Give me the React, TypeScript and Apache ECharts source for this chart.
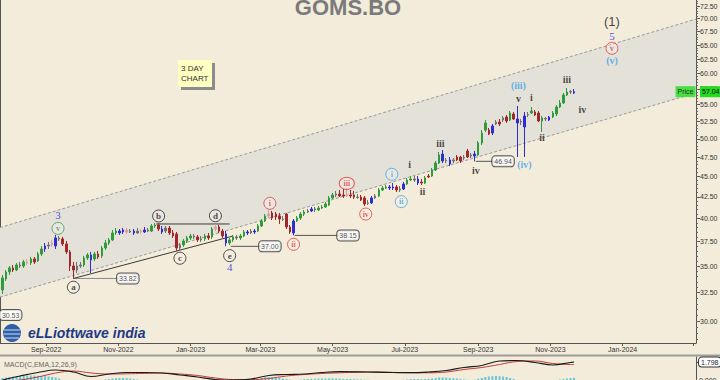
import React, { useEffect, useRef } from "react";
import * as echarts from "echarts";

// ---------- DATA ----------
const candleDates = [
"2022-07-26","2022-07-29","2022-08-01","2022-08-04","2022-08-07","2022-08-10","2022-08-13","2022-08-16","2022-08-19","2022-08-22",
"2022-08-25","2022-08-28","2022-08-31","2022-09-03","2022-09-06","2022-09-09","2022-09-12","2022-09-15","2022-09-18","2022-09-21",
"2022-09-24","2022-09-27","2022-09-30","2022-10-03","2022-10-06","2022-10-09","2022-10-12","2022-10-15","2022-10-18","2022-10-21",
"2022-10-24","2022-10-27","2022-10-30","2022-11-02","2022-11-05","2022-11-08","2022-11-11","2022-11-14","2022-11-17","2022-11-20",
"2022-11-23","2022-11-26","2022-11-29","2022-12-02","2022-12-05","2022-12-08","2022-12-11","2022-12-14","2022-12-17","2022-12-20",
"2022-12-23","2022-12-26","2022-12-29","2023-01-01","2023-01-04","2023-01-07","2023-01-10","2023-01-13","2023-01-16","2023-01-19",
"2023-01-22","2023-01-25","2023-01-28","2023-01-31","2023-02-03","2023-02-06","2023-02-09","2023-02-12","2023-02-15","2023-02-18",
"2023-02-21","2023-02-24","2023-02-27","2023-03-02","2023-03-05","2023-03-08","2023-03-11","2023-03-14","2023-03-17","2023-03-20",
"2023-03-23","2023-03-26","2023-03-29","2023-04-01","2023-04-04","2023-04-07","2023-04-10","2023-04-13","2023-04-16","2023-04-19",
"2023-04-22","2023-04-25","2023-04-28","2023-05-01","2023-05-04","2023-05-07","2023-05-10","2023-05-13","2023-05-16","2023-05-19",
"2023-05-22","2023-05-25","2023-05-28","2023-05-31","2023-06-03","2023-06-06","2023-06-09","2023-06-12","2023-06-15","2023-06-18",
"2023-06-21","2023-06-24","2023-06-27","2023-06-30","2023-07-03","2023-07-06","2023-07-09","2023-07-12","2023-07-15","2023-07-18",
"2023-07-21","2023-07-24","2023-07-27","2023-07-30","2023-08-02","2023-08-05","2023-08-08","2023-08-11","2023-08-14","2023-08-17",
"2023-08-20","2023-08-23","2023-08-26","2023-08-29","2023-09-01","2023-09-04","2023-09-07","2023-09-10","2023-09-13","2023-09-16",
"2023-09-19","2023-09-22","2023-09-25","2023-09-28","2023-10-01","2023-10-04","2023-10-07","2023-10-10","2023-10-13","2023-10-16",
"2023-10-19","2023-10-22","2023-10-25","2023-10-28","2023-10-31","2023-11-03","2023-11-06","2023-11-09","2023-11-12","2023-11-15",
"2023-11-18","2023-11-21"];

const opens = [
32.75,33.77,34.44,34.83,34.63,35.12,35.02,35.42,35.32,35.72,
35.52,36.22,36.73,37.04,37.14,37.04,37.88,37.78,37.25,36.43,
35.02,34.63,35.02,35.12,35.82,36.12,35.72,36.22,36.02,36.83,
37.35,37.67,38.41,38.62,38.52,38.73,38.52,38.62,38.41,38.62,
38.52,38.73,38.62,39.17,39.28,38.84,38.62,38.95,38.41,38.31,
36.83,37.14,37.56,37.88,38.09,37.99,37.67,37.78,38.09,37.99,
38.84,39.06,38.62,38.31,37.35,37.67,37.99,37.88,38.09,38.52,
38.41,38.62,38.62,39.17,39.72,40.28,40.62,40.50,40.28,39.94,
40.50,39.06,38.41,39.72,40.05,40.50,40.73,40.85,41.08,40.96,
41.19,41.31,41.54,42.37,42.72,42.84,42.72,42.72,42.72,42.72,
42.48,42.48,42.37,41.78,41.78,42.37,42.60,43.32,43.56,43.69,
43.56,43.69,43.32,43.44,44.05,44.55,44.68,44.68,44.30,44.18,
45.05,45.05,45.82,46.72,47.91,46.99,47.12,46.99,47.51,47.51,
47.38,48.32,47.78,47.91,47.78,49.42,51.24,51.24,50.81,52.11,
52.40,52.70,53.14,52.70,53.59,52.85,52.40,51.67,53.44,53.74,
53.89,53.74,52.55,52.85,53.14,53.14,53.59,54.65,55.27,56.52,
56.99,56.84];

const closes = [
33.87,34.44,34.83,34.63,35.12,35.02,35.42,35.32,35.72,35.42,
36.22,36.73,37.04,37.14,37.35,37.88,37.78,37.25,36.43,35.02,
34.63,35.02,35.12,35.82,36.12,35.62,36.22,35.92,36.83,37.35,
37.67,38.41,38.62,38.41,38.73,38.52,38.62,38.41,38.62,38.52,
38.73,38.62,39.17,39.28,38.84,38.52,38.95,38.41,38.09,36.83,
37.14,37.56,37.88,38.09,37.99,37.67,37.78,38.09,37.88,38.84,
39.06,38.62,38.09,37.35,37.67,37.99,37.88,38.09,38.52,38.41,
38.62,38.52,39.17,39.72,40.28,40.50,40.05,40.17,39.94,39.90,
39.06,38.52,39.72,40.05,40.50,40.73,40.85,41.08,40.96,41.19,
41.31,41.66,42.37,42.72,42.84,42.60,42.60,42.60,42.60,42.48,
42.43,42.13,41.66,41.72,42.37,42.60,43.32,43.56,43.69,43.56,
43.69,43.32,43.44,44.05,44.55,44.68,44.55,44.18,44.18,44.80,
44.93,45.82,46.72,47.78,46.99,47.05,46.59,47.12,47.12,46.99,
47.45,47.51,47.65,47.65,49.42,50.81,52.26,50.67,51.82,52.40,
52.11,53.00,52.55,53.74,52.85,52.26,52.48,53.29,53.51,54.04,
53.44,52.55,53.00,52.92,52.70,53.74,54.65,55.27,56.52,56.99,
57.07,57.04];

const highs = [
34.15,34.63,35.02,35.12,35.32,35.42,35.62,35.72,35.92,35.92,
36.43,37.04,37.35,37.46,37.67,38.20,38.09,37.99,37.56,36.63,
35.42,35.42,35.42,36.02,36.32,36.43,36.43,36.53,37.04,37.67,
37.88,38.73,38.95,38.84,38.95,38.95,38.84,38.84,38.95,38.84,
39.06,38.95,39.39,39.50,39.50,39.17,39.17,39.17,38.73,38.52,
37.35,37.78,38.09,38.31,38.31,38.20,38.09,38.31,38.41,39.06,
39.39,39.28,38.84,38.62,37.88,38.20,38.20,38.31,38.73,38.73,
38.84,38.84,39.39,39.94,40.50,40.96,40.85,40.73,40.62,40.28,
40.62,39.28,39.94,40.28,40.73,40.96,41.08,41.31,41.31,41.42,
41.54,41.89,42.60,42.96,43.20,43.32,43.44,43.56,43.32,43.20,
42.84,42.72,42.60,42.13,42.60,42.84,43.56,43.81,43.93,43.93,
44.18,43.93,43.81,44.30,44.80,45.05,45.05,45.05,44.68,45.05,
45.31,46.08,46.99,48.18,48.45,47.38,47.51,47.38,47.78,47.65,
47.78,48.59,48.05,48.32,49.69,51.24,52.70,51.53,52.11,52.70,
52.85,53.29,53.44,54.04,53.89,54.81,52.85,53.89,53.89,54.65,
54.19,54.04,53.29,53.14,53.29,54.04,54.96,55.73,56.84,57.63,
57.31,57.47];

const lows = [
32.38,33.59,34.15,34.44,34.53,34.83,34.83,35.12,35.12,35.22,
35.42,36.02,36.43,36.73,36.94,36.73,37.56,37.04,36.22,34.53,
33.82,34.34,34.83,34.92,35.62,34.34,35.52,35.72,35.82,36.63,
37.14,37.56,38.20,38.20,38.31,38.31,38.41,38.20,38.31,38.31,
38.41,38.52,38.52,38.95,38.62,38.31,38.41,38.20,37.88,36.53,
36.63,36.94,37.35,37.67,37.78,37.46,37.46,37.56,37.67,37.78,
38.62,38.41,37.88,37.00,37.14,37.46,37.67,37.67,37.99,38.20,
38.31,38.31,38.52,39.06,39.61,40.05,39.83,39.83,39.39,39.72,
38.84,38.31,38.15,39.61,39.83,40.28,40.62,40.73,40.73,40.85,
41.08,41.19,41.42,42.25,42.48,42.48,42.37,42.48,42.37,42.25,
42.25,42.01,41.42,41.54,41.66,42.25,42.48,43.20,43.44,43.32,
43.32,43.08,43.08,43.32,43.93,44.43,44.30,43.93,43.93,44.05,
44.80,44.93,45.69,46.59,46.72,46.72,46.33,46.72,46.99,46.72,
47.12,47.38,47.38,46.94,47.65,49.14,50.96,50.53,50.53,51.96,
51.82,52.40,52.26,52.55,52.70,47.51,51.96,47.51,53.14,53.59,
53.29,52.40,50.96,52.55,52.55,53.00,53.29,54.50,55.11,56.36,
56.68,56.68];

// candle colour class: g green, r red, b blue, p pink, k grey
const candleKind = (
  "gggrgkgpgr" + "ggbkpbkrrr" + "rkkggbgrgg" + "gggbbpkbkp" + "bkggrbkrrr" +
  "kgggkrkgrg" + "prrbggkggb" + "kbgggprrrk" + "rrbgggkbkg" + "ggggkrrprr" +
  "krrkbkgggb" + "brkbggkbrg" + "rgggbkbkrr" + "krkbgggrbk" + "rkrgrbkbkg" +
  "rrgkbggggg" + "kb").split("");

const lastPrice = 57.04;

// MACD panel
const macdDates = ["2022-07-26","2022-08-10","2022-08-25","2022-09-09","2022-09-24","2022-10-09","2022-10-24","2022-11-08","2022-11-23","2022-12-08","2022-12-23","2023-01-07","2023-01-22","2023-02-06","2023-02-21","2023-03-08","2023-03-23","2023-04-07","2023-04-22","2023-05-07","2023-05-22","2023-06-06","2023-06-21","2023-07-06","2023-07-21","2023-08-05","2023-08-20","2023-09-04","2023-09-19","2023-10-04","2023-10-19","2023-11-03","2023-11-18","2023-11-21"];
const macdLine = [0.0,0.4,0.75,1.0,0.8,0.35,0.6,0.75,0.75,0.7,0.5,0.3,0.05,0.0,0.1,0.45,0.55,0.6,0.75,0.83,0.82,0.78,0.75,0.73,0.8,0.95,1.25,1.45,1.9,1.95,1.75,1.5,1.75,1.798];
const signalLine = [-0.2,0.0,0.3,0.7,0.9,0.7,0.6,0.62,0.66,0.7,0.6,0.45,0.2,0.05,0.05,0.15,0.4,0.55,0.65,0.72,0.78,0.8,0.76,0.73,0.72,0.8,1.05,1.25,1.55,1.85,1.9,1.65,1.55,1.54];
const histogram = [
0.2,0.25,0.3,0.35,0.4,0.4,0.42,0.45,0.45,0.45,
0.42,0.4,0.38,0.35,0.3,0.25,0.15,-0.05,-0.15,-0.25,
-0.3,-0.35,-0.35,-0.3,-0.3,-0.25,-0.2,-0.1,-0.05,0.05,
0.1,0.15,0.18,0.2,0.2,0.18,0.15,0.1,0.05,-0.05,
-0.05,-0.02,-0.05,-0.1,-0.12,-0.15,-0.18,-0.2,-0.22,-0.25,
-0.25,-0.25,-0.22,-0.2,-0.18,-0.15,-0.15,-0.12,-0.12,-0.1,
-0.1,-0.12,-0.12,-0.1,-0.08,-0.05,-0.05,-0.03,-0.02,-0.01,
0.0,0.02,0.1,0.2,0.28,0.3,0.3,0.25,0.2,0.15,
0.1,0.02,-0.02,0.0,0.03,0.08,0.1,0.12,0.12,0.14,
0.15,0.15,0.16,0.16,0.15,0.14,0.12,0.1,0.1,0.08,
0.06,0.05,0.03,0.02,-0.02,-0.05,-0.05,-0.04,-0.03,-0.02,
-0.02,-0.01,0.0,0.02,0.05,0.08,0.1,0.1,0.08,0.1,
0.12,0.15,0.2,0.25,0.25,0.22,0.2,0.18,0.15,0.1,
0.05,0.02,0.0,0.02,0.12,0.2,0.3,0.35,0.38,0.4,
0.38,0.35,0.3,0.2,0.1,0.0,-0.05,-0.1,-0.15,-0.2,
-0.22,-0.25,-0.25,-0.2,-0.15,-0.1,-0.05,0.05,0.1,0.15,
0.2,0.22];

// axes
const xRange = ["2022-07-24", "2024-03-03"];
const priceRange = [28.23, 73.73];
const macdRange = [-0.2, 2.3];
const yTickValues = [30, 32.5, 35, 37.5, 40, 42.5, 45, 47.5, 50, 52.5, 55, 57.5, 60, 62.5, 65, 67.5, 70, 72.5];
const xTickDates = ["2022-09-01","2022-11-01","2023-01-01","2023-03-01","2023-05-01","2023-07-01","2023-09-01","2023-11-01","2024-01-01","2024-03-01"];
const xLabelDates = ["2022-09-01","2022-11-01","2023-01-01","2023-03-01","2023-05-01","2023-07-01","2023-09-01","2023-11-01","2024-01-01"];

// channel
const channelDates = ["2022-07-24", "2024-03-03"];
const upperChannel = [39.0, 69.9];
const lowerChannel = [32.1, 56.85];

// wave labels
const annText = ["3","v","a","b","c","d","e","4","i","ii","iii","iv","i","ii","i","ii","iii","iv","(iii)","v","i","ii","(iv)","iii","iv","(1)","5","v","(v)"];
const annDates = ["2022-09-11","2022-09-11","2022-09-24","2022-12-05","2022-12-23","2023-01-22","2023-02-03","2023-02-03","2023-03-09","2023-03-29","2023-05-13","2023-05-29","2023-06-20","2023-06-28","2023-07-05","2023-07-16","2023-07-31","2023-08-30","2023-10-05","2023-10-05","2023-10-16","2023-10-25","2023-10-10","2023-11-15","2023-11-28","2023-12-23","2023-12-23","2023-12-23","2023-12-23"];
const annPrices = [40.39,38.91,33.00,40.28,35.79,40.31,36.05,34.95,41.74,37.21,44.13,40.50,45.27,41.93,46.59,43.12,49.28,45.73,57.96,55.89,56.05,50.11,46.59,58.94,54.34,69.40,66.70,64.41,62.16];
const annKind = ["num","cg","ck","ck","ck","ck","ck","num","cr","cr","cr","cr","cl","cl","rk","rk","rk","rk","pl","rk","rk","rk","pl","rk","rk","big","num","cr","pl"];

// price level boxes and their leader lines
const boxValues = [33.82, 37.00, 38.15, 46.94, 30.53];
const boxDates = ["2022-11-09","2023-03-09","2023-05-14","2023-09-22","2022-08-02"];
const levelFrom = ["2022-09-24","2023-02-04","2023-03-30","2023-08-30"];

// triangle lines
const bdLineDates = ["2022-12-03", "2023-02-03"];
const bdLinePrices = [39.39, 39.39];
const aeLineDates = ["2022-09-24", "2023-02-06"];
const aeLinePrices = [33.82, 38.09];

// ---------- STYLE ----------
const T = (d: string) => Date.parse(d + "T00:00:00Z");
const L = Math.log;
const MONTHS = ["Jan","Feb","Mar","Apr","May","Jun","Jul","Aug","Sep","Oct","Nov","Dec"];
const SANS = "'Liberation Sans', Arial, sans-serif";
const SERIF = "'Liberation Serif', 'DejaVu Serif', serif";
const BG = "#F3ECDA";
const CANDLE_COLORS: any = { g: "#2f9b3a", r: "#a02828", b: "#2d2dd2", p: "#d9a0a0", k: "#707070" };
const ANN_STYLES: any = {
  num: { color: "#2424e6", size: 11, circle: false, family: SERIF, weight: "normal" },
  cg: { color: "#3c9a5a", size: 8, circle: true, family: SERIF, weight: "bold" },
  ck: { color: "#222222", size: 9, circle: true, family: SERIF, weight: "bold" },
  cr: { color: "#e23a3a", size: 8, circle: true, family: SERIF, weight: "bold" },
  cl: { color: "#3ea2ea", size: 8, circle: true, family: SERIF, weight: "bold" },
  rk: { color: "#1a1a1a", size: 10, circle: false, family: SERIF, weight: "bold" },
  pl: { color: "#3ea2ea", size: 10, circle: false, family: SERIF, weight: "bold" },
  big: { color: "#111111", size: 13, circle: false, family: SANS, weight: "normal" },
};

function buildOption() {
  const tMin = T(xRange[0]);
  const tMax = T(xRange[1]);
  const yMin = L(priceRange[0]);
  const yMax = L(priceRange[1]);

  const minorTicks: number[] = [];
  for (let v = 28.5; v <= 73.5; v += 0.5) minorTicks.push(L(v));

  const candleData = candleDates.map((d, i) => {
    const c = CANDLE_COLORS[candleKind[i]];
    return {
      value: [T(d), L(opens[i]), L(closes[i]), L(lows[i]), L(highs[i])],
      itemStyle: { color: c, color0: c, borderColor: c, borderColor0: c, borderWidth: 1 },
    };
  });

  const annData = annText.map((t, i) => {
    const s = ANN_STYLES[annKind[i]];
    return {
      value: [T(annDates[i]), L(annPrices[i])],
      symbol: "circle",
      symbolSize: s.circle ? (t.length >= 3 ? [15, 12] : 12) : 1,
      itemStyle: s.circle
        ? { color: "rgba(255,255,255,0.25)", borderColor: s.color, borderWidth: 1 }
        : { color: "rgba(0,0,0,0)" },
      label: {
        show: true, position: "inside", formatter: t, color: s.color,
        fontSize: s.size, fontFamily: s.family, fontWeight: s.weight, lineHeight: s.size,
      },
    };
  });

  const boxData = boxValues.map((v, i) => ({
    value: [T(boxDates[i]), L(v)],
    label: {
      show: true, position: "inside", formatter: v.toFixed(2), color: "#222",
      fontSize: 7, fontFamily: SANS, backgroundColor: "#ffffff", borderColor: "#333",
      borderWidth: 1, borderRadius: 3, padding: [2, 2, 1, 2],
    },
  }));

  const levelSeries = levelFrom.map((d, i) => ({
    type: "line", xAxisIndex: 0, yAxisIndex: 0, silent: true, symbol: "none", z: 3,
    data: [[T(d), L(boxValues[i])], [T(boxDates[i]), L(boxValues[i])]],
    lineStyle: { color: i === 0 ? "#8a8a8a" : "#555", width: 1 },
  }));

  const trendSeries = [
    { dates: bdLineDates, prices: bdLinePrices },
    { dates: aeLineDates, prices: aeLinePrices },
  ].map((ln) => ({
    type: "line", xAxisIndex: 0, yAxisIndex: 0, silent: true, symbol: "none", z: 3,
    data: ln.dates.map((d, i) => [T(d), L(ln.prices[i])]),
    lineStyle: { color: "#3a3a3a", width: 1 },
  }));

  const axisText = { fontSize: 7, color: "#333", fontFamily: SANS };

  return {
    animation: false,
    backgroundColor: BG,
    textStyle: { fontFamily: SANS },
    grid: [
      { left: 0, top: 0, width: 696, height: 343, containLabel: false, outerBoundsMode: "none" },
      { left: 0, top: 357, width: 696, height: 25, containLabel: false, outerBoundsMode: "none" },
    ],
    xAxis: [
      {
        type: "value", gridIndex: 0, min: tMin, max: tMax,
        axisLine: { show: true, lineStyle: { color: "#555" } },
        axisTick: { show: true, length: 3, customValues: xTickDates.map(T), lineStyle: { color: "#555" } },
        axisLabel: {
          show: true, customValues: xLabelDates.map(T), margin: 3, ...axisText,
          formatter: (v: number) => { const d = new Date(v); return MONTHS[d.getUTCMonth()] + "-" + d.getUTCFullYear(); },
        },
        splitLine: { show: false },
      },
      { type: "value", gridIndex: 1, min: tMin, max: tMax, show: false },
    ],
    yAxis: [
      {
        type: "value", gridIndex: 0, position: "right", min: yMin, max: yMax,
        axisLine: { show: true, lineStyle: { color: "#555" } },
        axisTick: { show: true, length: 4, customValues: yTickValues.map(L), lineStyle: { color: "#555" } },
        axisLabel: {
          show: true, margin: 4, ...axisText,
          customValues: [...yTickValues.map(L), L(lastPrice)],
          formatter: (v: number) => Math.abs(v - L(lastPrice)) < 1e-9 ? "{last|" + lastPrice.toFixed(2) + "}" : Math.exp(v).toFixed(2),
          rich: { last: { backgroundColor: "#22dd22", color: "#000", fontSize: 7, fontFamily: SANS, padding: [2, 3, 2, 2] } },
        },
        splitLine: { show: false },
      },
      {
        type: "value", gridIndex: 0, position: "right", min: yMin, max: yMax,
        axisLine: { show: false },
        axisTick: { show: true, length: 2, customValues: minorTicks, lineStyle: { color: "#666" } },
        axisLabel: { show: false },
        splitLine: { show: false },
      },
      {
        type: "value", gridIndex: 1, position: "right", min: macdRange[0], max: macdRange[1],
        axisLine: { show: true, lineStyle: { color: "#555" } },
        axisTick: { show: true, length: 3, customValues: [0, macdLine[macdLine.length - 1]], lineStyle: { color: "#555" } },
        axisLabel: {
          show: true, margin: 3, ...axisText,
          customValues: [0, macdLine[macdLine.length - 1]],
          formatter: (v: number) => v > 1 ? "{box|" + v.toFixed(3) + "}" : v.toFixed(3),
          rich: { box: { backgroundColor: "#fff", borderColor: "#333", borderWidth: 1, borderRadius: 3, padding: [1, 2, 1, 2], fontSize: 7, color: "#222" } },
        },
        splitLine: { show: false },
      },
    ],
    graphic: [
      { type: "line", shape: { x1: 0.5, y1: 0, x2: 0.5, y2: 343 }, style: { stroke: "#555", lineWidth: 1 } },
      { type: "rect", shape: { x: 0, y: 354.5, width: 720, height: 2 }, style: { fill: "#9c9c9c" } },
      { type: "text", x: 348, y: 7.5, style: { text: "GOMS.BO", font: "bold 22px 'Liberation Sans', Arial, sans-serif", fill: "#7a7a7a", textAlign: "center", textVerticalAlign: "middle" } },
      { type: "rect", shape: { x: 181, y: 63, width: 34, height: 27 }, style: { fill: "#8c8c8c" } },
      { type: "rect", shape: { x: 178, y: 60, width: 34, height: 27 }, style: { fill: "#FFFFC2" } },
      { type: "text", x: 181, y: 68, style: { text: "3 DAY", font: "8px 'Liberation Sans', Arial, sans-serif", fill: "#333", textVerticalAlign: "middle" } },
      { type: "text", x: 181, y: 78, style: { text: "CHART", font: "8px 'Liberation Sans', Arial, sans-serif", fill: "#333", textVerticalAlign: "middle" } },
      { type: "circle", shape: { cx: 12, cy: 333, r: 9 }, style: { fill: "#2f5da6" } },
      { type: "line", shape: { x1: 4, y1: 330, x2: 20, y2: 330 }, style: { stroke: "#cfe0f5", lineWidth: 1 } },
      { type: "line", shape: { x1: 3.5, y1: 334, x2: 20.5, y2: 334 }, style: { stroke: "#cfe0f5", lineWidth: 1 } },
      { type: "line", shape: { x1: 5, y1: 338, x2: 19, y2: 338 }, style: { stroke: "#cfe0f5", lineWidth: 1 } },
      { type: "text", x: 28, y: 333, style: { text: "eLLiottwave india", font: "italic bold 14px 'Liberation Sans', Arial, sans-serif", fill: "#1d3a85", textVerticalAlign: "middle" } },
      { type: "text", x: 4, y: 364, style: { text: "MACD(C,EMA,12,26,9)", font: "7px 'Liberation Sans', Arial, sans-serif", fill: "#666", textVerticalAlign: "middle" } },
    ],
    series: [
      {
        type: "custom", xAxisIndex: 0, yAxisIndex: 0, silent: true, z: 1,
        data: [[T(channelDates[0]), L(lowerChannel[0])]],
        renderItem: (params: any, api: any) => {
          const u0 = api.coord([T(channelDates[0]), L(upperChannel[0])]);
          const u1 = api.coord([T(channelDates[1]), L(upperChannel[1])]);
          const l0 = api.coord([T(channelDates[0]), L(lowerChannel[0])]);
          const l1 = api.coord([T(channelDates[1]), L(lowerChannel[1])]);
          const dash = { stroke: "#9a9a9a", lineWidth: 1, lineDash: [3, 2], fill: null };
          return {
            type: "group",
            children: [
              { type: "polygon", shape: { points: [u0, u1, l1, l0] }, style: { fill: "#E4E1D9" } },
              { type: "line", shape: { x1: u0[0], y1: u0[1], x2: u1[0], y2: u1[1] }, style: dash },
              { type: "line", shape: { x1: l0[0], y1: l0[1], x2: l1[0], y2: l1[1] }, style: dash },
            ],
          };
        },
      },
      ...levelSeries,
      ...trendSeries,
      {
        type: "candlestick", xAxisIndex: 0, yAxisIndex: 0, silent: true, z: 4,
        barWidth: 2, data: candleData, encode: { x: 0, y: [1, 2, 3, 4] },
      },
      {
        type: "scatter", xAxisIndex: 0, yAxisIndex: 0, silent: true, z: 6, clip: false,
        data: annData,
      },
      {
        type: "scatter", xAxisIndex: 0, yAxisIndex: 0, silent: true, z: 7, clip: false,
        symbolSize: 1, itemStyle: { color: "rgba(0,0,0,0)" }, data: boxData,
      },
      {
        type: "scatter", xAxisIndex: 0, yAxisIndex: 0, silent: true, z: 7, clip: false,
        symbolSize: 1, itemStyle: { color: "rgba(0,0,0,0)" },
        data: [[tMax, L(lastPrice)]],
        label: {
          show: true, position: "left", distance: 0, formatter: "Price", color: "#000",
          fontSize: 7, fontFamily: SANS, backgroundColor: "#22dd22", padding: [2, 2, 2, 2],
        },
      },
      {
        type: "bar", xAxisIndex: 1, yAxisIndex: 2, silent: true, barWidth: 2,
        data: candleDates.map((d, i) => [T(d), histogram[i]]),
        itemStyle: { color: "#69c6d6" },
      },
      {
        type: "line", xAxisIndex: 1, yAxisIndex: 2, silent: true, symbol: "none", smooth: 0.4,
        data: macdDates.map((d, i) => [T(d), signalLine[i]]),
        lineStyle: { color: "#c03a3a", width: 1 },
      },
      {
        type: "line", xAxisIndex: 1, yAxisIndex: 2, silent: true, symbol: "none", smooth: 0.4,
        data: macdDates.map((d, i) => [T(d), macdLine[i]]),
        lineStyle: { color: "#1a1a1a", width: 1.2 },
      },
    ],
  };
}

export default function App() {
  const ref = useRef<HTMLDivElement>(null);
  useEffect(() => {
    if (!ref.current) return;
    const chart = echarts.init(ref.current, null, { renderer: "svg" });
    chart.setOption(buildOption() as any);
    return () => chart.dispose();
  }, []);
  return <div ref={ref} style={{ position: "fixed", left: 0, top: 0, width: 720, height: 380 }} />;
}
